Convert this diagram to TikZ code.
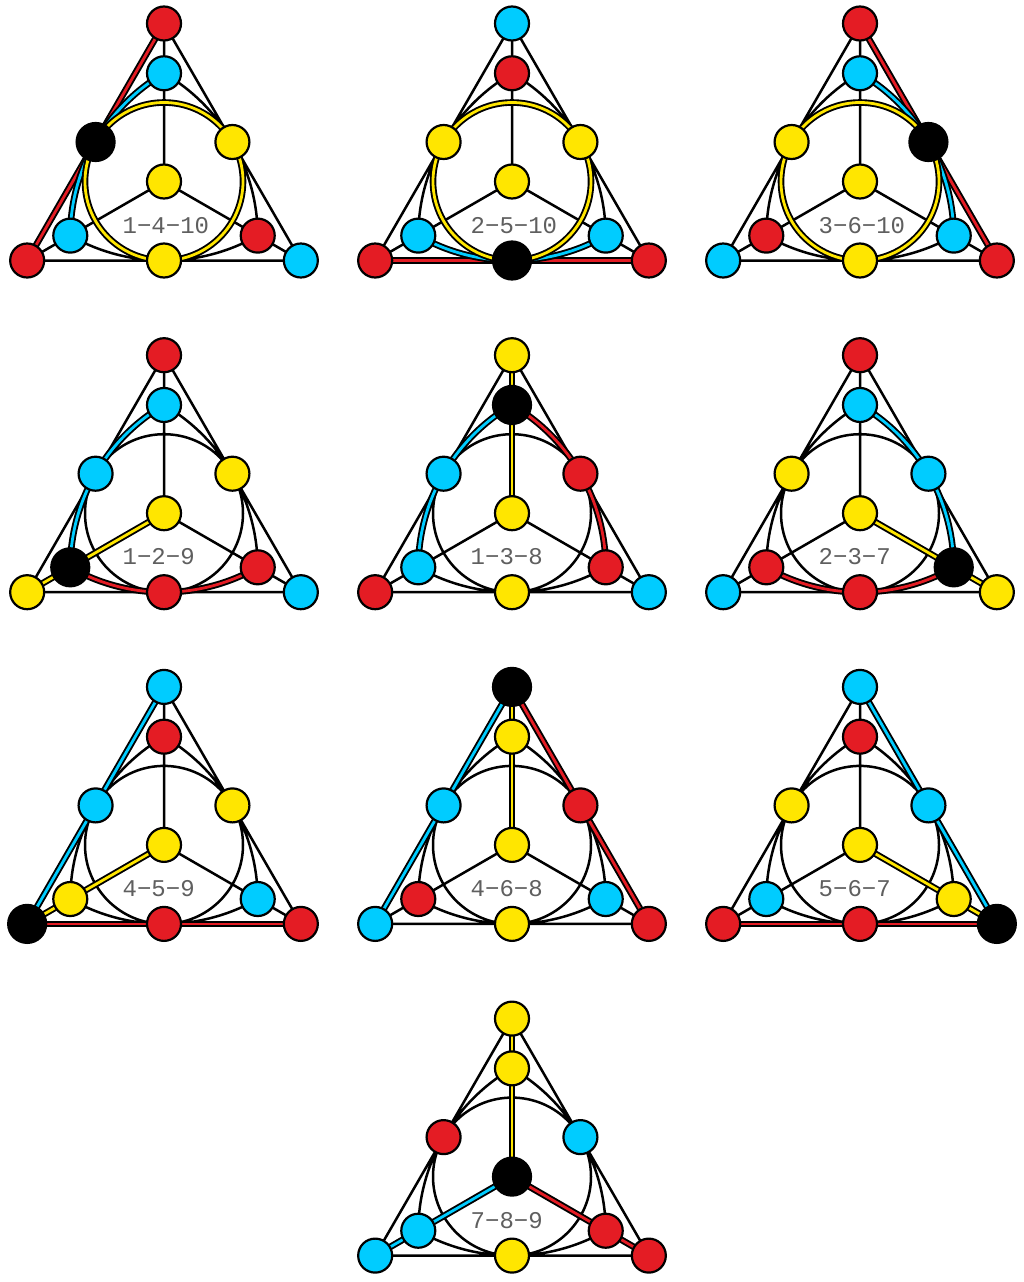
\documentclass[tikz,border=0pt]{standalone}
\usepackage{fontspec}
\newfontfamily\labfont{Liberation Mono}
\definecolor{cred}{RGB}{228,28,36}
\definecolor{cblue}{RGB}{0,204,255}
\definecolor{cyellow}{RGB}{255,230,0}
\definecolor{labgray}{RGB}{95,95,95}
\tikzset{
  ln/.style={line width=2.5pt, black},
  hlo/.style={line width=6.6pt, black},
  hli/.style={line width=2.8pt, #1},
  pt/.style={circle, draw=black, line width=2.2pt, fill=#1, minimum size=34pt, inner sep=0pt},
  ptk/.style={circle, draw=black, line width=2.2pt, fill=black, minimum size=38pt, inner sep=0pt},
  lab/.style={anchor=base west, inner sep=0pt, text=labgray, font=\labfont\fontsize{24}{24}\selectfont}
}
% paths of the ten lines
\newcommand\pSL{(T) -- (BL)}
\newcommand\pSR{(T) -- (BR)}
\newcommand\pSB{(BL) -- (BR)}
\newcommand\pVT{(T) -- (O)}
\newcommand\pVL{(BL) -- (O)}
\newcommand\pVR{(BR) -- (O)}
\newcommand\pCI{(O) circle[radius=0.5]}
\newcommand\pCL{(A) arc[start angle=120.259, end angle=179.741, radius=1.19595]}
\newcommand\pCR{(IR) arc[start angle=0.259, end angle=59.741, radius=1.19595]}
\newcommand\pCB{(IL) arc[start angle=240.259, end angle=299.741, radius=1.19595]}
\newcommand\hl[2]{\draw[hlo] #2; \draw[hli=#1] #2;}
\newcommand\nd[2]{\node[pt=#2] (\pn#1) at (#1) {};}
\newcommand\ndk[1]{\node[ptk] (\pn#1) at (#1) {};}
\newcommand\pn{}
\newcommand\panel[5]{%
  \renewcommand\pn{#1}%
  \begin{scope}[shift={(#2pt,-#3pt)}, x=158pt, y=158pt]
    \coordinate (O) at (0,0);
    \coordinate (T) at (90:1);
    \coordinate (BL) at (210:1);
    \coordinate (BR) at (330:1);
    \coordinate (A) at (90:0.685);
    \coordinate (IL) at (210:0.685);
    \coordinate (IR) at (330:0.685);
    \coordinate (L) at (150:0.5);
    \coordinate (R) at (30:0.5);
    \coordinate (B) at (270:0.5);
    \draw[ln] \pSL \pSR \pSB \pVT \pVL \pVR \pCI \pCL \pCR \pCB;
    #5
    \node[lab] (\pn lab) at (-0.2627,-0.326) {#4};
  \end{scope}}
\begin{document}
\begin{tikzpicture}[x=1pt,y=1pt]
\useasboundingbox (0,0) rectangle (1024,-1282);
\fill[white] (0,0) rectangle (1024,-1282);
% 1-4-10
\panel{pa}{164}{181.5}{1−4−10}{%
  \hl{cred}{\pSL}\hl{cblue}{\pCL}\hl{cyellow}{\pCI}
  \nd{T}{cred}\nd{A}{cblue}\ndk{L}\nd{R}{cyellow}\nd{O}{cyellow}
  \nd{IL}{cblue}\nd{IR}{cred}\nd{BL}{cred}\nd{B}{cyellow}\nd{BR}{cblue}}
% 2-5-10
\panel{pb}{512}{181.5}{2−5−10}{%
  \hl{cred}{\pSB}\hl{cblue}{\pCB}\hl{cyellow}{\pCI}
  \nd{T}{cblue}\nd{A}{cred}\nd{L}{cyellow}\nd{R}{cyellow}\nd{O}{cyellow}
  \nd{IL}{cblue}\nd{IR}{cblue}\nd{BL}{cred}\ndk{B}\nd{BR}{cred}}
% 3-6-10
\panel{pc}{860}{181.5}{3−6−10}{%
  \hl{cred}{\pSR}\hl{cblue}{\pCR}\hl{cyellow}{\pCI}
  \nd{T}{cred}\nd{A}{cblue}\nd{L}{cyellow}\ndk{R}\nd{O}{cyellow}
  \nd{IL}{cred}\nd{IR}{cblue}\nd{BL}{cblue}\nd{B}{cyellow}\nd{BR}{cred}}
% 1-2-9
\panel{pd}{164}{513.2}{1−2−9}{%
  \hl{cblue}{\pCL}\hl{cred}{\pCB}\hl{cyellow}{\pVL}
  \nd{T}{cred}\nd{A}{cblue}\nd{L}{cblue}\nd{R}{cyellow}\nd{O}{cyellow}
  \ndk{IL}\nd{IR}{cred}\nd{BL}{cyellow}\nd{B}{cred}\nd{BR}{cblue}}
% 1-3-8
\panel{pe}{512}{513.2}{1−3−8}{%
  \hl{cblue}{\pCL}\hl{cred}{\pCR}\hl{cyellow}{\pVT}
  \nd{T}{cyellow}\ndk{A}\nd{L}{cblue}\nd{R}{cred}\nd{O}{cyellow}
  \nd{IL}{cblue}\nd{IR}{cred}\nd{BL}{cred}\nd{B}{cyellow}\nd{BR}{cblue}}
% 2-3-7
\panel{pf}{860}{513.2}{2−3−7}{%
  \hl{cblue}{\pCR}\hl{cred}{\pCB}\hl{cyellow}{\pVR}
  \nd{T}{cred}\nd{A}{cblue}\nd{L}{cyellow}\nd{R}{cblue}\nd{O}{cyellow}
  \nd{IL}{cred}\ndk{IR}\nd{BL}{cblue}\nd{B}{cred}\nd{BR}{cyellow}}
% 4-5-9
\panel{pg}{164}{844.9}{4−5−9}{%
  \hl{cblue}{\pSL}\hl{cred}{\pSB}\hl{cyellow}{\pVL}
  \nd{T}{cblue}\nd{A}{cred}\nd{L}{cblue}\nd{R}{cyellow}\nd{O}{cyellow}
  \nd{IL}{cyellow}\nd{IR}{cblue}\ndk{BL}\nd{B}{cred}\nd{BR}{cred}}
% 4-6-8
\panel{ph}{512}{844.9}{4−6−8}{%
  \hl{cblue}{\pSL}\hl{cred}{\pSR}\hl{cyellow}{\pVT}
  \ndk{T}\nd{A}{cyellow}\nd{L}{cblue}\nd{R}{cred}\nd{O}{cyellow}
  \nd{IL}{cred}\nd{IR}{cblue}\nd{BL}{cblue}\nd{B}{cyellow}\nd{BR}{cred}}
% 5-6-7
\panel{pi}{860}{844.9}{5−6−7}{%
  \hl{cred}{\pSB}\hl{cblue}{\pSR}\hl{cyellow}{\pVR}
  \nd{T}{cblue}\nd{A}{cred}\nd{L}{cyellow}\nd{R}{cblue}\nd{O}{cyellow}
  \nd{IL}{cblue}\nd{IR}{cyellow}\nd{BL}{cred}\nd{B}{cred}\ndk{BR}}
% 7-8-9
\panel{pj}{512}{1176.6}{7−8−9}{%
  \hl{cyellow}{\pVT}\hl{cblue}{\pVL}\hl{cred}{\pVR}
  \nd{T}{cyellow}\nd{A}{cyellow}\nd{L}{cred}\nd{R}{cblue}\ndk{O}
  \nd{IL}{cblue}\nd{IR}{cred}\nd{BL}{cblue}\nd{B}{cyellow}\nd{BR}{cred}}
\end{tikzpicture}
\end{document}
